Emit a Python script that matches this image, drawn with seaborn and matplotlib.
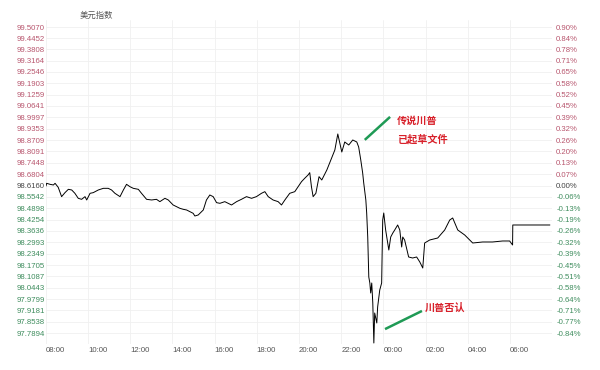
import matplotlib
matplotlib.use("Agg")
import matplotlib.pyplot as plt
import seaborn as sns
import pandas as pd

# ---- data (hours since midnight of day 1; values of the dollar index) ----
hours = [8.00, 8.03, 8.19, 8.35, 8.43, 8.58, 8.74, 8.90, 9.06, 9.22, 9.37, 9.53,
         9.69, 9.85, 9.93, 10.09, 10.24, 10.48, 10.72, 10.95, 11.11, 11.27, 11.51,
         11.67, 11.82, 11.98, 12.14, 12.38, 12.53, 12.77, 13.01, 13.24, 13.40, 13.64,
         13.80, 14.03, 14.19, 14.35, 14.51, 14.67, 14.82, 14.98, 15.06, 15.22, 15.46,
         15.61, 15.77, 15.93, 16.09, 16.25, 16.48, 16.64, 16.80, 17.04, 17.27, 17.51,
         17.75, 17.98, 18.22, 18.38, 18.54, 18.77, 19.01, 19.17, 19.33, 19.56, 19.80,
         19.96, 20.12, 20.27, 20.43, 20.51, 20.59, 20.67, 20.80, 20.95,
         21.08, 21.32, 21.55, 21.70, 21.84, 22.03, 22.17, 22.36, 22.55, 22.74, 22.83,
         22.93, 23.02, 23.07, 23.17, 23.21, 23.26, 23.31, 23.36, 23.40, 23.45, 23.50,
         23.55, 23.59, 23.69, 23.73, 23.83, 23.92, 23.97, 24.02, 24.11, 24.21, 24.26,
         24.35, 24.45, 24.54, 24.68, 24.78, 24.87, 24.92, 25.01, 25.20, 25.39, 25.58,
         25.73, 25.87, 25.96, 26.20, 26.58, 26.91, 27.15, 27.29, 27.53, 27.86, 28.24,
         28.71, 29.18, 29.66, 29.99, 30.13, 30.14, 31.90]
dxy = [98.6146, 98.6296, 98.6240, 98.6202, 98.6296, 98.6071, 98.5548, 98.5772, 98.5959,
       98.5922, 98.5735, 98.5454, 98.5398, 98.5548, 98.5361, 98.5735, 98.5772, 98.5922,
       98.6015, 98.6015, 98.5922, 98.5735, 98.5548, 98.5922, 98.6240, 98.6108, 98.6015,
       98.5959, 98.5735, 98.5398, 98.5361, 98.5398, 98.5267, 98.5454, 98.5361, 98.5080,
       98.4986, 98.4893, 98.4837, 98.4799, 98.4706, 98.4612, 98.4462, 98.4519, 98.4799,
       98.5361, 98.5641, 98.5548, 98.5211, 98.5174, 98.5267, 98.5174, 98.5080, 98.5267,
       98.5398, 98.5548, 98.5454, 98.5548, 98.5735, 98.5828, 98.5548, 98.5361, 98.5267,
       98.5080, 98.5361, 98.5735, 98.5828, 98.6108, 98.6390, 98.6577, 98.6764, 98.6895,
       98.6108, 98.5548, 98.5735, 98.6670,
       98.6483, 98.7044, 98.7717, 98.8166, 98.9065, 98.8054, 98.8616, 98.8447, 98.8728,
       98.8616, 98.8335, 98.7605, 98.6876, 98.6314, 98.5360, 98.4630, 98.3283, 98.1038,
       98.0701, 98.0140, 98.0701, 97.9579, 97.7333, 97.9017, 97.8456, 97.9354, 98.0308,
       98.0701, 98.4237, 98.4630, 98.3676, 98.2946, 98.2553, 98.3283, 98.3508, 98.3676,
       98.3957, 98.3676, 98.2722, 98.3283, 98.3115, 98.2161, 98.2104, 98.2161, 98.1880,
       98.1543, 98.2946, 98.3115, 98.3227, 98.3676, 98.4237, 98.4350, 98.3676, 98.3395,
       98.2946, 98.3003, 98.3003, 98.3059, 98.3059, 98.2834, 98.3957, 98.3957]

left_ticks = [99.5070, 99.4452, 99.3808, 99.3164, 99.2546, 99.1903, 99.1259, 99.0641,
              98.9997, 98.9353, 98.8709, 98.8091, 98.7448, 98.6804, 98.6160, 98.5542,
              98.4898, 98.4254, 98.3636, 98.2993, 98.2349, 98.1705, 98.1087, 98.0443,
              97.9799, 97.9181, 97.8538, 97.7894]
left_labels = [f"{v:.4f}" for v in left_ticks]
right_labels = ["0.90%", "0.84%", "0.78%", "0.71%", "0.65%", "0.58%", "0.52%", "0.45%",
                "0.39%", "0.32%", "0.26%", "0.20%", "0.13%", "0.07%", "0.00%", "-0.06%",
                "-0.13%", "-0.19%", "-0.26%", "-0.32%", "-0.39%", "-0.45%", "-0.51%",
                "-0.58%", "-0.64%", "-0.71%", "-0.77%", "-0.84%"]
base_value = 98.6160
x_ticks = [8, 10, 12, 14, 16, 18, 20, 22, 24, 26, 28, 30]
x_labels = ["08:00", "10:00", "12:00", "14:00", "16:00", "18:00", "20:00", "22:00",
            "00:00", "02:00", "04:00", "06:00"]
title = "美元指数"
note1 = "传说川普\n已起草文件"
note2 = "川普否认"

# ---- style ----
sns.set_theme(style="white")
plt.rcParams["font.family"] = ["Liberation Sans", "Noto Sans CJK SC", "DejaVu Sans"]

up_col = "#b8566e"
dn_col = "#3f8d5e"
mid_col = "#444444"
grid_col = "#f0f0f0"
red = "#d8202a"
green = "#1f9a55"

fig = plt.figure(figsize=(6, 3.7), dpi=100)
ax = fig.add_axes([46 / 600, 26 / 370, 506 / 600, 324 / 370])

df = pd.DataFrame({"h": hours, "v": dxy})
sns.lineplot(data=df, x="h", y="v", ax=ax, color="black", lw=0.7,
             sort=False, estimator=None)

ax.set_xlim(8, 32)
ax.set_ylim(97.7277, 99.5463)
ax.set_xlabel("")
ax.set_ylabel("")

for v in left_ticks:
    ax.axhline(v, color=grid_col, lw=0.6, zorder=0)
for t in x_ticks:
    ax.axvline(t, color=grid_col, lw=0.6, zorder=0)

ax.set_yticks(left_ticks)
ax.set_yticklabels(left_labels)
ax.set_xticks(x_ticks)
ax.set_xticklabels(x_labels, ha="left")
ax.tick_params(axis="y", length=0, pad=1, labelsize=5.6)
ax.tick_params(axis="x", length=0, pad=2, labelsize=5.6, colors="#555555")

def col_for(v):
    if abs(v - base_value) < 1e-6:
        return mid_col
    return up_col if v > base_value else dn_col

for lab, v in zip(ax.get_yticklabels(), left_ticks):
    lab.set_color(col_for(v))

ax2 = ax.twinx()
ax2.set_ylim(ax.get_ylim())
ax2.set_yticks(left_ticks)
ax2.set_yticklabels(right_labels)
ax2.tick_params(axis="y", length=0, pad=3, labelsize=5.6)
for lab, v in zip(ax2.get_yticklabels(), left_ticks):
    lab.set_color(col_for(v))
ax2.grid(False)
ax.grid(False)

for a in (ax, ax2):
    for s in a.spines.values():
        s.set_visible(False)

fig.text(80 / 600, 1 - 15 / 370, title, fontsize=6, color="#555555",
         family=["Noto Sans CJK SC", "DejaVu Sans"], va="center", ha="left")

# annotations
ax.plot([0.630, 0.680], [0.630, 0.701], transform=ax.transAxes, color=green, lw=1.8,
        solid_capstyle="butt")
ax.text(0.694, 0.661, note1, transform=ax.transAxes, color=red, fontsize=7.3,
        fontweight="bold", family=["Noto Sans CJK SC", "DejaVu Sans"],
        va="center", ha="left", linespacing=2.0)
ax.plot([0.670, 0.743], [0.046, 0.102], transform=ax.transAxes, color=green, lw=1.8,
        solid_capstyle="butt")
ax.text(0.749, 0.111, note2, transform=ax.transAxes, color=red, fontsize=7.3,
        fontweight="bold", family=["Noto Sans CJK SC", "DejaVu Sans"],
        va="center", ha="left")

fig.savefig("out.png", dpi=100, facecolor="white")
